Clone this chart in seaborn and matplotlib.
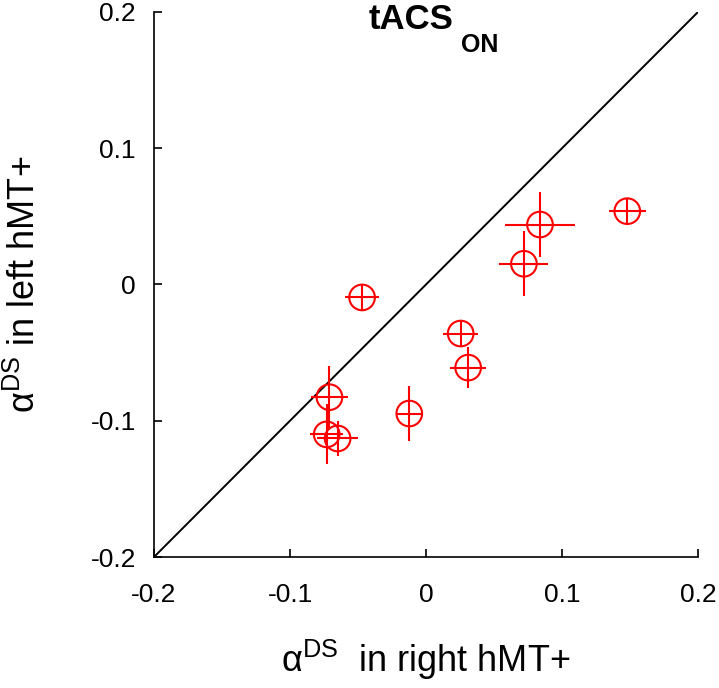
import numpy as np
import pandas as pd
import matplotlib
matplotlib.use("Agg")
import matplotlib.pyplot as plt
import seaborn as sns

# values (alpha_DS right vs left hMT+)
x_right = [-0.047, 0.0255, 0.031, -0.0123, -0.071, -0.073, -0.065, 0.0838, 0.072, 0.148]
y_left = [-0.0095, -0.036, -0.061, -0.0947, -0.0827, -0.110, -0.113, 0.044, 0.0152, 0.0538]
x_err = [0.0125, 0.013, 0.013, 0.009, 0.0135, 0.012, 0.015, 0.026, 0.018, 0.0135]
y_err = [0.009, 0.009, 0.015, 0.020, 0.023, 0.022, 0.013, 0.024, 0.024, 0.010]
ticks = [-0.2, -0.1, 0, 0.1, 0.2]
tick_labels = ["-0.2", "-0.1", "0", "0.1", "0.2"]

df = pd.DataFrame({"right": x_right, "left": y_left})

sns.set_style("ticks")
plt.rcParams["font.family"] = ["Liberation Sans", "DejaVu Sans"]
plt.rcParams["mathtext.fontset"] = "custom"
plt.rcParams["mathtext.rm"] = "Liberation Sans"
plt.rcParams["mathtext.it"] = "Liberation Sans:italic"
plt.rcParams["mathtext.bf"] = "Liberation Sans:bold"
plt.rcParams["text.color"] = "black"
plt.rcParams["axes.labelcolor"] = "black"

fig = plt.figure(figsize=(7.19, 6.88), dpi=100)
ax = fig.add_axes([0.2142, 0.1904, 0.7566, 0.7922])

# identity line
sns.lineplot(x=[-0.2, 0.2], y=[-0.2, 0.2], color="black", lw=1.4, ax=ax)

ax.errorbar(df["right"], df["left"], xerr=x_err, yerr=y_err, fmt="none",
            ecolor="red", elinewidth=1.5, capsize=0, zorder=3)
sns.scatterplot(data=df, x="right", y="left", marker="o", s=340,
                facecolor="none", edgecolor="red", linewidth=1.5,
                ax=ax, zorder=4)

ax.set_xlim(-0.2, 0.2)
ax.set_ylim(-0.2, 0.2)
ax.set_xticks(ticks)
ax.set_xticklabels(tick_labels)
ax.set_yticks(ticks)
ax.set_yticklabels(tick_labels)
ax.tick_params(direction="in", length=6, width=1.2, labelsize=19,
               colors="black")
ax.tick_params(axis="x", pad=19)
ax.tick_params(axis="y", pad=13)
for side in ["left", "bottom"]:
    ax.spines[side].set_linewidth(1.2)
    ax.spines[side].set_color("black")
sns.despine(ax=ax)

ax.set_xlabel(r"$\mathregular{\alpha^{DS}}$  in right hMT+", fontsize=26, labelpad=22)
ax.set_ylabel(r"$\mathregular{\alpha^{DS}}$ in left hMT+", fontsize=26, labelpad=34)

# title with a deep subscript, as in the original figure
fig.text(369 / 719, 1 - 29 / 688, "tACS", ha="left", va="baseline",
         fontsize=25, fontweight="bold")
fig.text(461 / 719, 1 - 52 / 688, "ON", ha="left", va="baseline",
         fontsize=18, fontweight="bold")

fig.savefig("out.png", dpi=100)
plt.close(fig)
